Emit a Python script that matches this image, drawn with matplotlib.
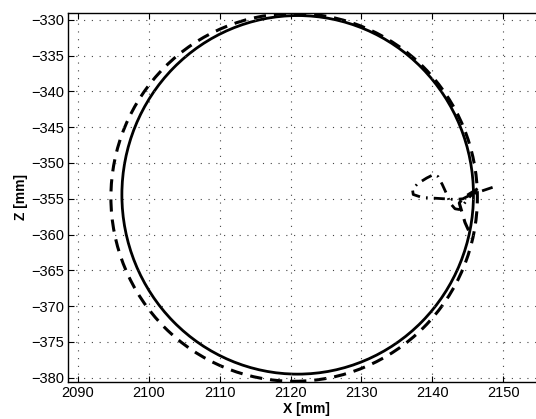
import matplotlib
matplotlib.use("Agg")
import matplotlib.pyplot as plt
from matplotlib.patches import Ellipse

plt.rcParams['font.family'] = ['Liberation Sans', 'DejaVu Sans']

# Reference (solid) circle: centre, width, height (mm)
solid_center = (2121.0, -354.45)
solid_size = (49.6, 50.1)

# Measured (dashed) circle: centre, width, height (mm)
dashed_center = (2120.5, -354.8)
dashed_size = (51.7, 51.4)

# Approach trajectory (dash-dot)
loop_x = [2148.5, 2147.0, 2145.5, 2144.3, 2143.2, 2141.7, 2140.0, 2138.5, 2137.3,
          2137.2, 2137.9, 2139.2, 2140.2, 2140.8, 2141.4, 2142.0, 2142.5, 2143.2,
          2143.8, 2144.4, 2145.0, 2145.8, 2146.3]
loop_z = [-353.4, -353.9, -354.4, -355.0, -355.1, -355.0, -354.9, -354.8, -354.4,
          -353.7, -352.9, -352.1, -351.6, -351.9, -353.0, -354.3, -355.6, -356.4,
          -356.5, -355.8, -355.0, -354.2, -354.0]

# Small inward kink of the measured path near the start point
kink_x = [2146.4, 2144.3, 2143.8, 2144.6, 2145.6]
kink_z = [-353.6, -354.9, -355.6, -358.3, -360.5]

xticks = [2090, 2100, 2110, 2120, 2130, 2140, 2150]
yticks = [-330, -335, -340, -345, -350, -355, -360, -365, -370, -375, -380]

fig = plt.figure(figsize=(5.36, 4.19), dpi=100)
ax = fig.add_axes([0.1269, 0.0883, 0.89, 0.8814])

ax.add_patch(Ellipse(solid_center, solid_size[0], solid_size[1], fill=False,
                     edgecolor='black', linewidth=2.0, linestyle='-'))
ax.add_patch(Ellipse(dashed_center, dashed_size[0], dashed_size[1],
                     fill=False, edgecolor='black', linewidth=2.2,
                     linestyle=(0, (4, 2.6))))
ax.plot(kink_x, kink_z, color='black', linewidth=2.2, linestyle=(0, (4, 2.6)))
ax.plot(loop_x, loop_z, color='black', linewidth=2.0,
        linestyle=(0, (4, 2.2, 0.6, 2.2)))

ax.set_xlim(2088.6, 2155.9)
ax.set_ylim(-380.6, -329.0)
ax.set_xticks(xticks)
ax.set_yticks(yticks)
ax.tick_params(which='major', direction='in', length=4, width=0.8, labelsize=10.5,
               top=True, right=True, pad=3)
ax.grid(True, which='major', linestyle=(0, (1, 6)), color='#444444', linewidth=0.8)
for s in ax.spines.values():
    s.set_linewidth(1.0)

ax.set_xlabel('X [mm]', fontsize=10, fontweight='bold', labelpad=1)
ax.set_ylabel('Z [mm]', fontsize=10, fontweight='bold', labelpad=2)

fig.savefig('out.png', dpi=100)
